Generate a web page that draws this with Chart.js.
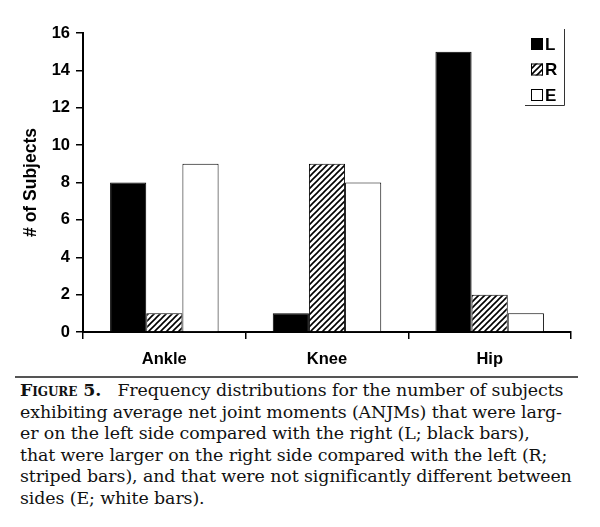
<!DOCTYPE html>
<html>
<head>
<meta charset="utf-8">
<script src="https://cdn.jsdelivr.net/npm/chart.js@4.4.0/dist/chart.umd.min.js"></script>
<style>
  html, body { margin: 0; padding: 0; background: #fff; }
  #wrap { position: relative; width: 600px; height: 375px; }
  #rule { position: absolute; left: 15px; top: 376px; width: 563px; height: 0; border-top: 2px solid #555; }
  #caption {
    position: absolute; left: 20px; top: 380px; width: 575px;
    font-family: "DejaVu Serif", serif; font-size: 17.4px; line-height: 21.6px; color: #111;
    white-space: nowrap; letter-spacing: -0.1px;
  }
  #caption b { font-variant: small-caps; }
</style>
</head>
<body>
<div id="wrap"><canvas id="returnChart" width="600" height="375"></canvas></div>
<div id="rule"></div>
<div id="caption">
<b>Figure 5.</b>&nbsp;&nbsp; Frequency distributions for the number of subjects<br>
exhibiting average net joint moments (ANJMs) that were larg-<br>
er on the left side compared with the right (L; black bars),<br>
that were larger on the right side compared with the left (R;<br>
striped bars), and that were not significantly different between<br>
sides (E; white bars).
</div>
<script>
// данные графика
const joints = ["Ankle", "Knee", "Hip"];
const leftBigger = [8, 1, 15];   // L
const rightBigger = [1, 9, 2];   // R
const noDiff = [9, 8, 1];        // E
const yTicks = [0, 2, 4, 6, 8, 10, 12, 14, 16];

const fontFamily = "'Liberation Sans', Arial, sans-serif";

// штриховка для R
function makeStripes() {
  const c = document.createElement("canvas");
  c.width = 6;
  c.height = 6;
  const g = c.getContext("2d");
  g.fillStyle = "#fff";
  g.fillRect(0, 0, 6, 6);
  g.strokeStyle = "#000";
  g.lineWidth = 1.6;
  g.beginPath();
  g.moveTo(-1, 7); g.lineTo(7, -1);
  g.moveTo(-1, 1); g.lineTo(1, -1);
  g.moveTo(5, 7); g.lineTo(7, 5);
  g.stroke();
  return g.createPattern(c, "repeat");
}

const ctx = document.getElementById("returnChart").getContext("2d");
const stripes = makeStripes();

// легенда внутри области графика
const boxLegend = {
  id: "boxLegend",
  afterDraw(chart) {
    const g = chart.ctx;
    g.save();
    g.strokeStyle = "#333";
    g.lineWidth = 1;
    g.beginPath();
    g.moveTo(564.5, 29);
    g.lineTo(564.5, 105.5);
    g.lineTo(525, 105.5);
    g.stroke();
    g.font = "bold 17px " + fontFamily;
    g.textBaseline = "middle";
    chart.data.datasets.forEach((ds, i) => {
      const y = 44 + i * 25.5;
      g.fillStyle = ds.backgroundColor;
      g.fillRect(531, y - 6, 12, 12);
      g.strokeStyle = "#000";
      g.strokeRect(531.5, y - 5.5, 11, 11);
      g.fillStyle = "#000";
      g.fillText(ds.label, 545, y + 1);
    });
    g.restore();
  },
};

new Chart(ctx, {
  type: "bar",
  data: {
    labels: joints,
    datasets: [
      { label: "L", data: leftBigger, backgroundColor: "#000", borderColor: "#000", borderWidth: 1 },
      { label: "R", data: rightBigger, backgroundColor: stripes, borderColor: "#000", borderWidth: 1 },
      { label: "E", data: noDiff, backgroundColor: "#fff", borderColor: "#000", borderWidth: 1 },
    ],
  },
  options: {
    responsive: false,
    animation: false,
    layout: { padding: { top: 33, right: 29, left: 0, bottom: 0 } },
    categoryPercentage: 0.667,
    barPercentage: 1,
    plugins: { legend: { display: false }, tooltip: { enabled: false } },
    scales: {
      x: {
        grid: { offset: true, drawOnChartArea: false, drawTicks: true, tickLength: 7, color: "#000", lineWidth: 1.5 },
        border: { display: true, color: "#000", width: 2 },
        ticks: {
          color: "#000",
          padding: 11,
          font: { family: fontFamily, size: 16.5, weight: "bold" },
        },
        afterFit(scale) { scale.height = 43; },
      },
      y: {
        min: 0,
        max: 16,
        afterBuildTicks(scale) { scale.ticks = yTicks.map((v) => ({ value: v })); },
        grid: { drawOnChartArea: false, drawTicks: true, tickLength: 7, color: "#000", lineWidth: 1.5 },
        border: { display: true, color: "#000", width: 2 },
        ticks: {
          color: "#000",
          padding: 6,
          font: { family: fontFamily, size: 16.5, weight: "bold" },
        },
        title: {
          display: true,
          text: "# of Subjects",
          color: "#000",
          padding: { top: 21, bottom: 0 },
          font: { family: fontFamily, size: 17.5, weight: "bold" },
        },
        afterFit(scale) { scale.width = 83; },
      },
    },
  },
  plugins: [boxLegend],
});
</script>
</body>
</html>
